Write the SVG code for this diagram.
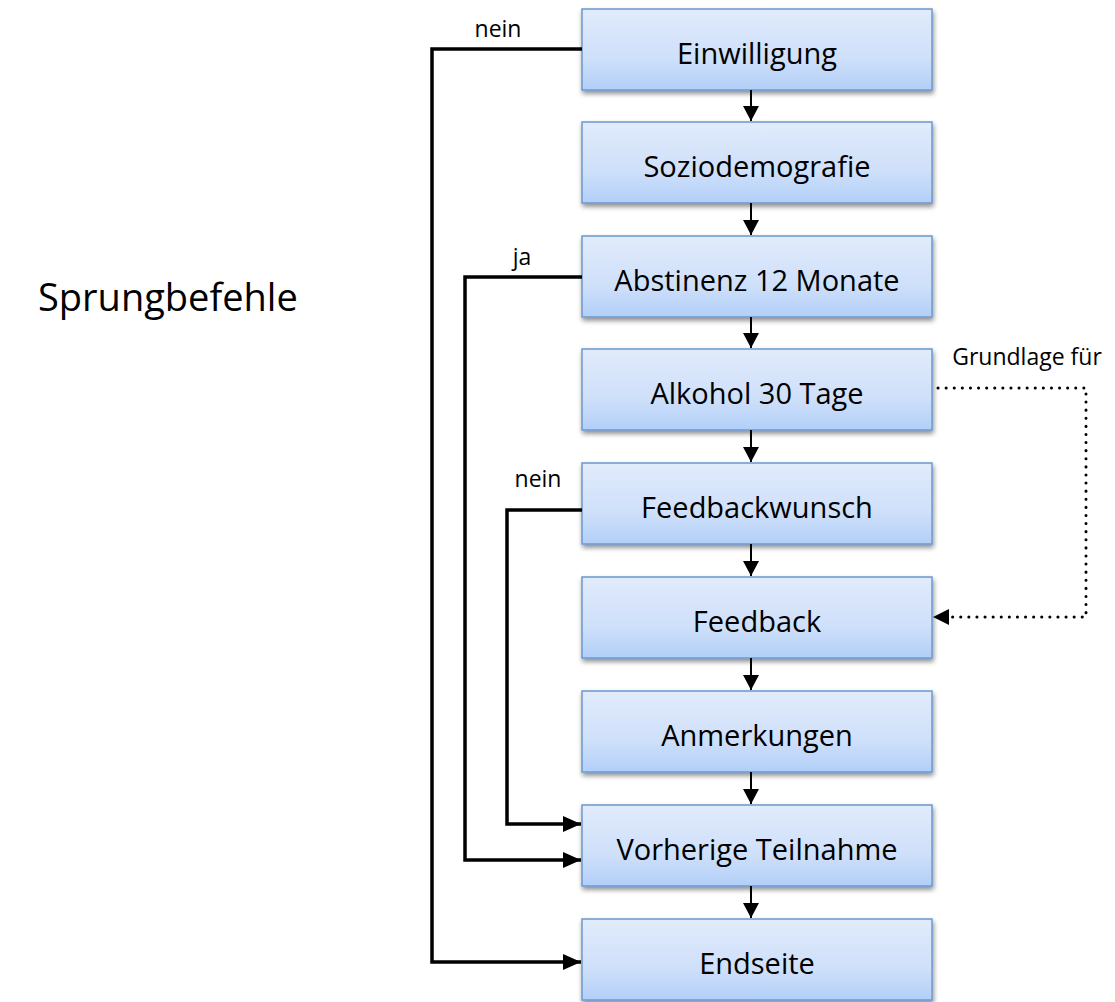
<svg xmlns="http://www.w3.org/2000/svg" width="1115" height="1002" viewBox="0 0 1115 1002">
<defs>
<linearGradient id="g" x1="0" y1="0" x2="0" y2="1">
<stop offset="0" stop-color="#e1ebfb"/>
<stop offset="0.6" stop-color="#cfe0fa"/>
<stop offset="1" stop-color="#b2cff8"/>
</linearGradient>
<filter id="sh" x="-10%" y="-10%" width="130%" height="140%">
<feGaussianBlur in="SourceAlpha" stdDeviation="2.5"/>
<feOffset dx="1" dy="3" result="b"/>
<feComponentTransfer><feFuncA type="linear" slope="0.45"/></feComponentTransfer>
<feMerge><feMergeNode/><feMergeNode in="SourceGraphic"/></feMerge>
</filter>
<marker id="ah" markerWidth="15" markerHeight="16" refX="15" refY="8" orient="auto" markerUnits="userSpaceOnUse">
<path d="M0,0 L15,8 L0,16 Z" fill="#000"/>
</marker>
<marker id="ahs" markerWidth="18" markerHeight="16" refX="18" refY="8" orient="auto" markerUnits="userSpaceOnUse">
<path d="M0,0 L18,8 L0,16 Z" fill="#000"/>
</marker>
</defs>
<style>
.box{fill:url(#g);stroke:#6b98d0;stroke-width:1.5;filter:url(#sh)}
.bt{font-family:"Open Sans","Liberation Sans",sans-serif;font-size:29px;fill:#000;text-anchor:middle;dominant-baseline:central}
.lbl{font-family:"Open Sans","Liberation Sans",sans-serif;font-size:23px;fill:#000;text-anchor:middle}
.flow{stroke:#000;stroke-width:2;fill:none;marker-end:url(#ah)}
.jump{stroke:#000;stroke-width:3.5;fill:none;marker-end:url(#ahs)}
.dot{stroke:#000;stroke-width:3;fill:none;stroke-dasharray:0.1 8;stroke-linecap:round}
</style>
<text x="38" y="311" font-family="Open Sans, Liberation Sans, sans-serif" font-size="38">Sprungbefehle</text>
<g id="n1"><rect class="box" x="582" y="9" width="350" height="81"/><text class="bt" x="757" y="52">Einwilligung</text></g>
<g id="n2"><rect class="box" x="582" y="122" width="350" height="81"/><text class="bt" x="757" y="165">Soziodemografie</text></g>
<g id="n3"><rect class="box" x="582" y="236" width="350" height="81"/><text class="bt" x="757" y="279">Abstinenz 12 Monate</text></g>
<g id="n4"><rect class="box" x="582" y="349" width="350" height="81"/><text class="bt" x="757" y="392">Alkohol 30 Tage</text></g>
<g id="n5"><rect class="box" x="582" y="463" width="350" height="81"/><text class="bt" x="757" y="506">Feedbackwunsch</text></g>
<g id="n6"><rect class="box" x="582" y="577" width="350" height="81"/><text class="bt" x="757" y="620">Feedback</text></g>
<g id="n7"><rect class="box" x="582" y="691" width="350" height="81"/><text class="bt" x="757" y="734">Anmerkungen</text></g>
<g id="n8"><rect class="box" x="582" y="805" width="350" height="81"/><text class="bt" x="757" y="848">Vorherige Teilnahme</text></g>
<g id="n9"><rect class="box" x="582" y="919" width="350" height="81"/><text class="bt" x="757" y="962">Endseite</text></g>
<g id="connectors">
<line class="flow" x1="751" y1="90" x2="751" y2="121"/>
<line class="flow" x1="751" y1="203" x2="751" y2="235"/>
<line class="flow" x1="751" y1="317" x2="751" y2="348"/>
<line class="flow" x1="751" y1="430" x2="751" y2="462"/>
<line class="flow" x1="751" y1="544" x2="751" y2="576"/>
<line class="flow" x1="751" y1="658" x2="751" y2="690"/>
<line class="flow" x1="751" y1="772" x2="751" y2="804"/>
<line class="flow" x1="751" y1="886" x2="751" y2="918"/>
<polyline class="jump" points="582,49 432,49 432,962 581,962"/>
<polyline class="jump" points="582,277 465,277 465,860 581,860"/>
<polyline class="jump" points="582,510 507,510 507,824 581,824"/>
<polyline class="dot" points="938,388 1086,388 1086,617 948,617"/>
<path d="M933,617 L949,609 L949,625 Z" fill="#000"/>
<text class="lbl" x="498" y="37">nein</text>
<text class="lbl" x="522" y="265">ja</text>
<text class="lbl" x="538" y="487">nein</text>
<text class="lbl" x="1027" y="365">Grundlage für</text>
</g>
</svg>
